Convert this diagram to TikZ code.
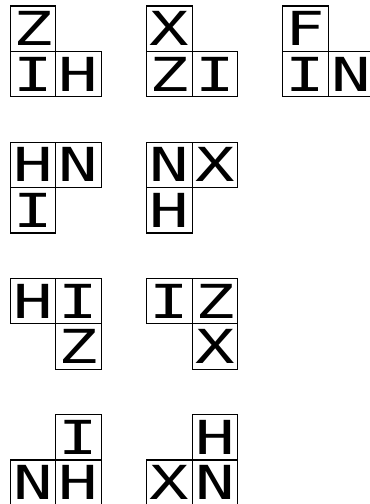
\documentclass[tikz,border=0pt]{standalone}
\usepackage{fontspec}
\newfontfamily\tilefont[FakeStretch=1.4]{DejaVu Sans Mono}
\usetikzlibrary{positioning}
\tikzset{
  tile/.style={draw=black, line width=1pt, minimum size=1.362cm, inner sep=0pt, font=\tilefont\fontsize{40}{40}\selectfont}
}

\begin{document}
\begin{tikzpicture}[x=1.362cm,y=-1.362cm]
\useasboundingbox (-0.231,-0.132) rectangle (7.897,10.969);
% group column / group row / cell column / cell row / letter
\foreach \gx/\gy/\cx/\cy/\ch in {
  0/0/0/0/Z, 0/0/0/1/I, 0/0/1/1/H,
  1/0/0/0/X, 1/0/0/1/Z, 1/0/1/1/I,
  2/0/0/0/F, 2/0/0/1/I, 2/0/1/1/N,
  0/1/0/0/H, 0/1/1/0/N, 0/1/0/1/I,
  1/1/0/0/N, 1/1/1/0/X, 1/1/0/1/H,
  0/2/0/0/H, 0/2/1/0/I, 0/2/1/1/Z,
  1/2/0/0/I, 1/2/1/0/Z, 1/2/1/1/X,
  0/3/1/0/I, 0/3/0/1/N, 0/3/1/1/H,
  1/3/1/0/H, 1/3/0/1/X, 1/3/1/1/N}
  \node[tile] (t\gx\gy\cx\cy) at (3*\gx+\cx+0.5, 3*\gy+\cy+0.5) {\ch};
\end{tikzpicture}
\end{document}
